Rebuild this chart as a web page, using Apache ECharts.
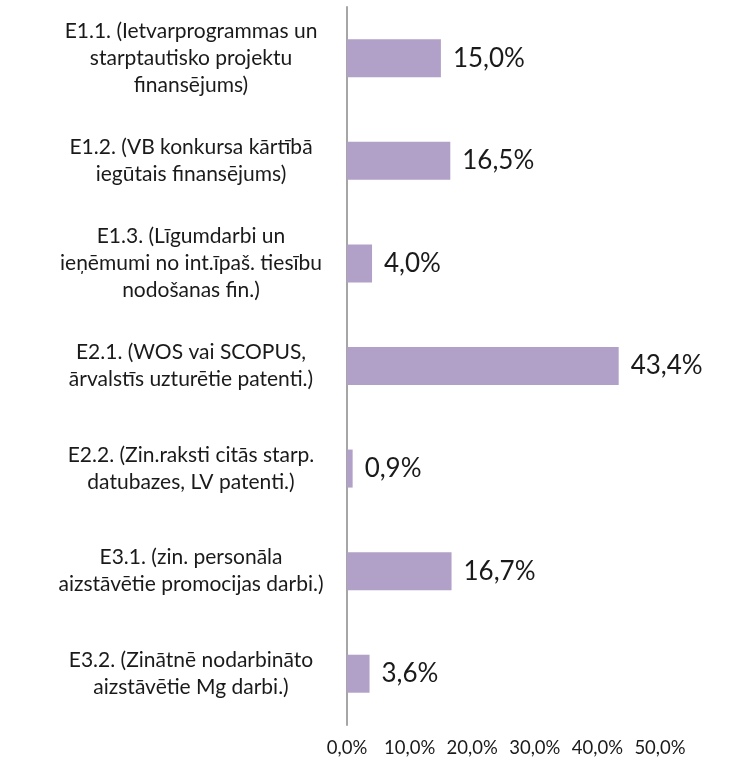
<!DOCTYPE html>
<html>
<head>
<meta charset="utf-8">
<script src="https://cdn.jsdelivr.net/npm/echarts@6/dist/echarts.min.js"></script>
<style>
  html, body { margin: 0; padding: 0; background: #fff; }
  #chart { width: 733px; height: 769px; }
</style>
</head>
<body>
<div id="chart"></div>
<script>
// kategorijas (no augšas uz leju)
var categories = [
  'E1.1. (Ietvarprogrammas un\nstarptautisko projektu\nfinansējums)',
  'E1.2. (VB konkursa kārtībā\niegūtais finansējums)',
  'E1.3. (Līgumdarbi un\nieņēmumi no int.īpaš. tiesību\nnodošanas fin.)',
  'E2.1. (WOS vai SCOPUS,\nārvalstīs uzturētie patenti.)',
  'E2.2. (Zin.raksti citās starp.\ndatubazes, LV patenti.)',
  'E3.1. (zin. personāla\naizstāvētie promocijas darbi.)',
  'E3.2. (Zinātnē nodarbināto\naizstāvētie Mg darbi.)'
];
var values = [15.0, 16.5, 4.0, 43.4, 0.9, 16.7, 3.6];
var axisMin = 0, axisMax = 50, axisStep = 10;

var fmt = function (v) {
  return Number(v).toFixed(1).replace('.', ',') + '%';
};

var font = 'Lato, "Open Sans", sans-serif';
var chart = echarts.init(document.getElementById('chart'));
var option = {
  animation: false,
  grid: { left: 347, right: 73, top: 7, bottom: 44, containLabel: false },
  xAxis: {
    type: 'value',
    min: axisMin,
    max: axisMax,
    interval: axisStep,
    axisLine: { show: false },
    axisTick: { show: false },
    splitLine: { show: false },
    axisLabel: {
      formatter: fmt,
      fontFamily: font,
      fontSize: 18.5,
      color: '#1a1a1a',
      margin: 14
    }
  },
  yAxis: {
    type: 'category',
    inverse: true,
    data: categories,
    axisLine: { show: true, lineStyle: { color: '#a6a6a6', width: 2 } },
    axisTick: { show: false },
    axisLabel: {
      align: 'center',
      margin: 156,
      fontFamily: font,
      fontSize: 21,
      lineHeight: 27,
      color: '#1a1a1a'
    }
  },
  series: [{
    type: 'bar',
    data: values,
    barWidth: 38,
    itemStyle: { color: '#b1a0c7' },
    label: {
      show: true,
      position: 'right',
      distance: 12,
      formatter: function (p) { return fmt(p.value); },
      fontFamily: font,
      fontSize: 26,
      color: '#1a1a1a'
    }
  }]
};
chart.setOption(option);
</script>
</body>
</html>
